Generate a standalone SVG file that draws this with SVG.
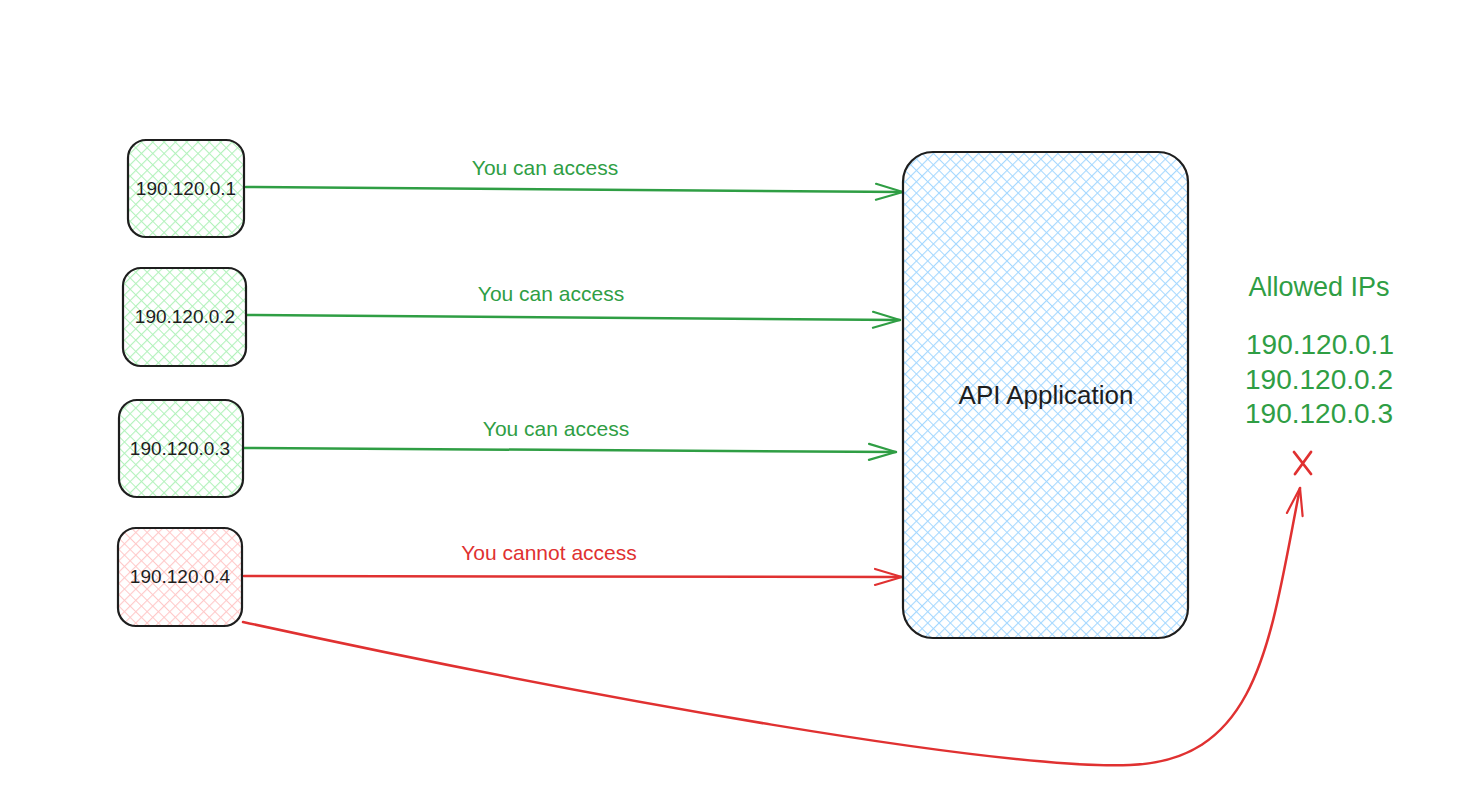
<svg xmlns="http://www.w3.org/2000/svg" width="1477" height="790" viewBox="0 0 1477 790">
<defs>
<pattern id="hg" width="8" height="8" patternUnits="userSpaceOnUse" patternTransform="rotate(45)">
<rect width="8" height="8" fill="#fff"/>
<path d="M0 0V8M0 0H8" stroke="#b2f2bb" stroke-width="2.2"/>
</pattern>
<pattern id="hr" width="8" height="8" patternUnits="userSpaceOnUse" patternTransform="rotate(45)">
<rect width="8" height="8" fill="#fff"/>
<path d="M0 0V8M0 0H8" stroke="#ffc9c9" stroke-width="2.2"/>
</pattern>
<pattern id="hb" width="8" height="8" patternUnits="userSpaceOnUse" patternTransform="rotate(45)">
<rect width="8" height="8" fill="#fff"/>
<path d="M0 0V8M0 0H8" stroke="#a5d8ff" stroke-width="2.2"/>
</pattern>
<marker id="ag" viewBox="0 0 30 20" refX="29" refY="10" markerWidth="30" markerHeight="20" markerUnits="userSpaceOnUse" orient="auto">
<path d="M2 2L29 10L2 18" fill="none" stroke="#2f9e44" stroke-width="2.2" stroke-linecap="round"/>
</marker>
<marker id="ar" viewBox="0 0 30 20" refX="29" refY="10" markerWidth="30" markerHeight="20" markerUnits="userSpaceOnUse" orient="auto">
<path d="M2 2L29 10L2 18" fill="none" stroke="#e03131" stroke-width="2.2" stroke-linecap="round"/>
</marker>
</defs>
<style>
.box{stroke:#1e1e1e;stroke-width:2.2}
.nt{font-family:"Liberation Sans",sans-serif;font-size:19px;fill:#1e1e1e;text-anchor:middle;dominant-baseline:central}
.lg{font-family:"Liberation Sans",sans-serif;font-size:21px;fill:#2f9e44;text-anchor:middle;dominant-baseline:central}
.lr{font-family:"Liberation Sans",sans-serif;font-size:21px;fill:#e03131;text-anchor:middle;dominant-baseline:central}
.ip{font-family:"Liberation Sans",sans-serif;font-size:28px;fill:#2f9e44;text-anchor:middle;dominant-baseline:central}
.cg{fill:none;stroke:#2f9e44;stroke-width:2.5;stroke-linecap:round}
.cr{fill:none;stroke:#e03131;stroke-width:2.5;stroke-linecap:round}
</style>
<rect width="1477" height="790" fill="#fff"/>
<g id="connectors">
<path class="cg" d="M246 187L903 192" marker-end="url(#ag)"/>
<path class="cg" d="M247 315L900 320" marker-end="url(#ag)"/>
<path class="cg" d="M244 448L896 452" marker-end="url(#ag)"/>
<path class="cr" d="M244 576L902 577" marker-end="url(#ar)"/>
<path class="cr" d="M243 622C600 700 1000 770 1130 765C1260 760 1270 640 1300 488" marker-end="url(#ar)"/>
<text class="lg" x="545" y="167">You can access</text>
<text class="lg" x="551" y="293">You can access</text>
<text class="lg" x="556" y="428">You can access</text>
<text class="lr" x="549" y="552">You cannot access</text>
</g>
<g id="n1">
<rect class="box" x="128" y="140" width="116" height="97" rx="18" fill="url(#hg)"/>
<text class="nt" x="186" y="188">190.120.0.1</text>
</g>
<g id="n2">
<rect class="box" x="123" y="268" width="123" height="98" rx="18" fill="url(#hg)"/>
<text class="nt" x="185" y="316">190.120.0.2</text>
</g>
<g id="n3">
<rect class="box" x="119" y="400" width="124" height="97" rx="18" fill="url(#hg)"/>
<text class="nt" x="180" y="448">190.120.0.3</text>
</g>
<g id="n4">
<rect class="box" x="118" y="528" width="124" height="98" rx="18" fill="url(#hr)"/>
<text class="nt" x="180" y="576">190.120.0.4</text>
</g>
<g id="api">
<rect class="box" x="903" y="152" width="285" height="486" rx="30" fill="url(#hb)"/>
<text class="nt" x="1046" y="395" style="font-size:26px">API Application</text>
</g>
<g id="allowed">
<text class="ip" x="1319" y="287" style="font-size:27px">Allowed IPs</text>
<text class="ip" x="1320" y="344">190.120.0.1</text>
<text class="ip" x="1319" y="379">190.120.0.2</text>
<text class="ip" x="1319" y="413">190.120.0.3</text>
</g>
<g id="x">
<path d="M1294 452L1311 474M1311 452L1295 474" fill="none" stroke="#e03131" stroke-width="2.8" stroke-linecap="round"/>
</g>
</svg>
